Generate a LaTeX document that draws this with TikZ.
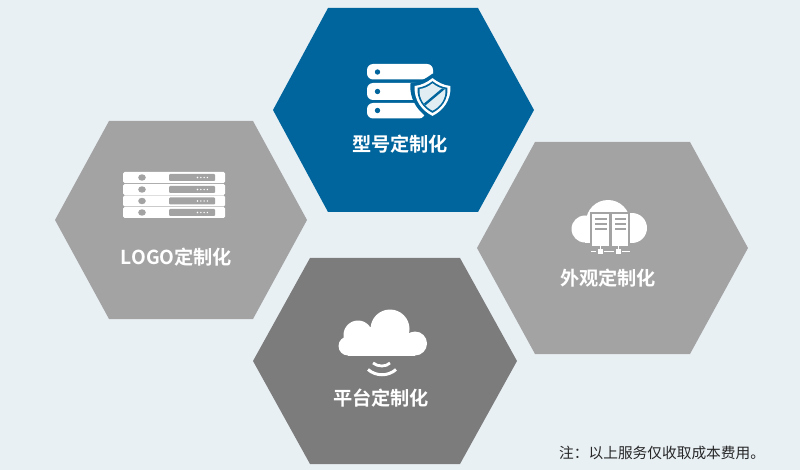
\documentclass[tikz,border=0pt]{standalone}
\usepackage{fontspec}
\setmainfont{Noto Sans CJK SC}
\newfontfamily\boldcjk{Noto Sans CJK SC Bold}
\definecolor{bgc}{HTML}{E9F0F4}
\definecolor{blueh}{HTML}{00659C}
\definecolor{greyh}{HTML}{A3A3A3}
\definecolor{darkh}{HTML}{7C7C7C}
\newcommand{\shieldp}{(0,-18) .. controls (5,-14) and (11,-11) .. (17,-10.5) .. controls (18,3) and (10,13) .. (0,18) .. controls (-10,13) and (-18,3) .. (-17,-10.5) .. controls (-11,-11) and (-5,-14) .. (0,-18) -- cycle}
\tikzset{
  hexa/.style={fill=#1,draw=none},
  lab/.style={text=white,font=\boldcjk\fontsize{19.2}{21}\selectfont,inner sep=0pt,anchor=center},
  whitefill/.style={fill=white,draw=none},
}
\begin{document}
\begin{tikzpicture}[x=1pt,y=-1pt]
\useasboundingbox (0,0) rectangle (800,470);
\fill[bgc] (0,0) rectangle (800,470);
% hexagons
\fill[hexa=blueh] (273,110)--(328,8)--(478,8)--(534,110)--(478,212)--(328,212)--cycle;
\fill[hexa=greyh] (55,220)--(109,121)--(253,121)--(307,220)--(253,319)--(109,319)--cycle;
\fill[hexa=greyh] (477,248)--(535,142)--(690,142)--(748,248)--(690,354)--(535,354)--cycle;
\fill[hexa=darkh] (253,361)--(310,258)--(460,258)--(517,361)--(460,464)--(310,464)--cycle;
% top icon: server + shield
\fill[whitefill,rounded corners=6pt] (367,64) -- (433,64) -- (433,79.5) -- (367,79.5) -- cycle;
\fill[whitefill,rounded corners=6pt] (367,83) rectangle (425,100);
\fill[whitefill,rounded corners=6pt] (367,103) rectangle (425,118.5);
\fill[blueh] (377.5,72) circle (2.7);
\fill[blueh] (377.5,91.5) circle (2.7);
\fill[blueh] (377.5,110.5) circle (2.7);
\begin{scope}[shift={(432.5,97)}]
\fill[blueh,scale=1.3] \shieldp;
\fill[white,scale=1.05] \shieldp;
\fill[blueh,scale=0.88] \shieldp;
\begin{scope}
\clip[scale=0.76] \shieldp;
\fill[blueh!12!white] (-20,-20) rectangle (20,20);
\draw[blueh,line width=2.4pt] (-12,11) -- (13,-10);
\end{scope}
\end{scope}
\node[lab] (t1) at (400,144) {型号定制化};
% left icon: rack
\foreach \yy in {172,184,195.5,207}{
  \fill[whitefill,rounded corners=1.5pt] (123,\yy) rectangle (225,\yy+11);
  \fill[greyh] (142,\yy+5.5) ellipse (3.8 and 3.2);
  \fill[greyh,rounded corners=1pt] (169,\yy+2) rectangle (215,\yy+9);
  \foreach \dx in {0,3.3,6.6,9.9}{\fill[white] (197.5+\dx,\yy+5.5) circle (0.8);}
}
\node[lab] (t2) at (176.5,257) {LOGO定制化};
% right icon: cloud with servers
\fill[whitefill] (608,222) circle (22);
\fill[whitefill] (585,229) circle (13.5);
\fill[whitefill] (632,228) circle (15);
\fill[whitefill] (585,226) rectangle (632,243);
\fill[greyh] (590,212) rectangle (630,248);
\fill[whitefill] (592,214) rectangle (609,246);
\fill[whitefill] (612,214) rectangle (628,246);
\foreach \yy in {218,223,228}{
  \fill[greyh] (595,\yy) rectangle (606.5,\yy+2.5);
  \fill[greyh] (614.5,\yy) rectangle (625.5,\yy+2.5);
}
\fill[whitefill] (591,250.6) rectangle (596,251.8);
\fill[whitefill] (604,250.6) rectangle (614,251.8);
\fill[whitefill] (622,250.6) rectangle (630,251.8);
\fill[whitefill] (597.5,249) rectangle (603,254);
\fill[whitefill] (615.5,249) rectangle (621,254);
\fill[whitefill] (599.5,246) rectangle (601,249);
\fill[whitefill] (617.5,246) rectangle (619,249);
\node[lab] (t3) at (608,278) {外观定制化};
% bottom icon: cloud with wifi
\fill[whitefill] (390,329) circle (19.5);
\fill[whitefill] (358,335) circle (14.5);
\fill[whitefill] (348,346) circle (9.5);
\fill[whitefill] (415,343.5) circle (12);
\fill[whitefill] (348,338) rectangle (415,355.5);
\fill[whitefill] (358,327) rectangle (395,345);
\draw[white,line width=2.8pt] (373,363) .. controls (378,367) and (386,367) .. (390,363);
\draw[white,line width=3pt] (368,369.5) .. controls (376,376.5) and (388,376.5) .. (396,369.5);
\node[lab] (t4) at (381,398) {平台定制化};
\node[inner sep=0pt,anchor=west,text=black!85,font=\fontsize{14.7}{16}\selectfont] (note) at (559,453) {注：以上服务仅收取成本费用。};
\end{tikzpicture}
\end{document}
